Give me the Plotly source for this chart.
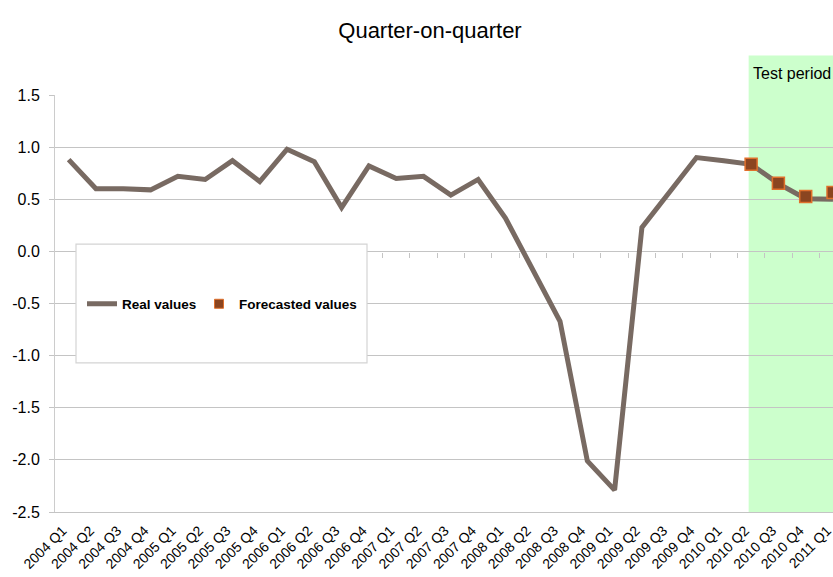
import plotly.graph_objects as go

# Quarterly labels, 2004 Q1 .. 2011 Q1
quarters = [
    "2004 Q1", "2004 Q2", "2004 Q3", "2004 Q4",
    "2005 Q1", "2005 Q2", "2005 Q3", "2005 Q4",
    "2006 Q1", "2006 Q2", "2006 Q3", "2006 Q4",
    "2007 Q1", "2007 Q2", "2007 Q3", "2007 Q4",
    "2008 Q1", "2008 Q2", "2008 Q3", "2008 Q4",
    "2009 Q1", "2009 Q2", "2009 Q3", "2009 Q4",
    "2010 Q1", "2010 Q2", "2010 Q3", "2010 Q4",
    "2011 Q1",
]

# Observed quarter-on-quarter growth (%)
real_values = [
    0.88, 0.60, 0.60, 0.59,
    0.72, 0.69, 0.87, 0.67,
    0.98, 0.86, 0.42, 0.82,
    0.70, 0.72, 0.54, 0.69,
    0.32, -0.17, -0.67, -2.01,
    -2.29, 0.23, 0.56, 0.90,
    0.87, 0.835, 0.65, 0.505,
    0.50,
]

# Model forecasts over the test period
forecast_quarters = ["2010 Q2", "2010 Q3", "2010 Q4", "2011 Q1"]
forecast_values = [0.835, 0.654, 0.526, 0.564]

y_ticks = [1.5, 1.0, 0.5, 0.0, -0.5, -1.0, -1.5, -2.0, -2.5]

LINE_COLOR = "#786a62"
MARKER_FILL = "#8b4520"
MARKER_EDGE = "#e0702c"
GRID = "#c4c4c4"
FONT = "Arial, Liberation Sans, sans-serif"

W, H = 833, 577
M_L, M_R, M_T, M_B = 55, 0, 94.5, 64.5
plot_w = W - M_L - M_R
plot_h = H - M_T - M_B

def px_x(px):
    return (px - M_L) / plot_w

def px_y(py):
    return (H - M_B - py) / plot_h

fig = go.Figure()

fig.add_trace(go.Scatter(
    x=quarters, y=real_values, mode="lines", name="Real values",
    line=dict(color=LINE_COLOR, width=5), cliponaxis=False,
    legend="legend",
))

fig.add_trace(go.Scatter(
    x=forecast_quarters, y=forecast_values, mode="markers",
    name="Forecasted values", showlegend=False, cliponaxis=False,
    marker=dict(symbol="square", size=12, color=MARKER_FILL,
                line=dict(color=MARKER_EDGE, width=1.5)),
))
# legend key for the forecasts (smaller square than on the plot)
fig.add_trace(go.Scatter(
    x=[None], y=[None], mode="markers", name="Forecasted values",
    marker=dict(symbol="square", size=9, color=MARKER_FILL,
                line=dict(color=MARKER_EDGE, width=1)),
    legend="legend2",
))
# carrier for the tick marks along the zero line
fig.add_trace(go.Scatter(x=[None], y=[None], xaxis="x2", showlegend=False,
                         hoverinfo="skip", mode="lines"))

n = len(quarters)
x_right = n - 1 + 0.0
band_start = quarters.index("2010 Q2") - 0.09

# test period band
fig.add_shape(type="rect", xref="x", yref="paper",
              x0=band_start, x1=n + 1,
              y0=0, y1=px_y(55), fillcolor="#ccffcc", line=dict(width=0),
              layer="below")
fig.add_annotation(text="Test period", xref="x", yref="paper",
                   x=band_start, y=px_y(73),
                   xanchor="left", yanchor="middle", showarrow=False,
                   xshift=2, font=dict(family=FONT, size=16, color="#000000"))

# legend panel
fig.add_shape(type="rect", xref="paper", yref="paper",
              x0=px_x(76), x1=px_x(367), y0=px_y(363), y1=px_y(244),
              fillcolor="#ffffff", line=dict(color="#d4d4d4", width=1.2),
              layer="above")

legend_font = dict(family=FONT, size=13.5, color="#000000", weight="bold")

fig.update_layout(
    width=W, height=H,
    margin=dict(l=M_L, r=M_R, t=M_T, b=M_B, autoexpand=False),
    paper_bgcolor="#ffffff", plot_bgcolor="rgba(0,0,0,0)",
    title=dict(text="Quarter-on-quarter", x=430 / W, xanchor="center",
               y=1 - 30 / H, yanchor="middle", yref="container",
               font=dict(family=FONT, size=22, color="#000000")),
    showlegend=True,
    legend=dict(x=px_x(82), y=px_y(304), xanchor="left", yanchor="middle",
                bgcolor="rgba(0,0,0,0)", borderwidth=0, font=legend_font),
    legend2=dict(x=px_x(199), y=px_y(304), xanchor="left", yanchor="middle",
                 bgcolor="rgba(0,0,0,0)", borderwidth=0, font=legend_font),
    xaxis=dict(
        type="category", categoryorder="array", categoryarray=quarters,
        range=[-0.5, x_right], tickangle=-45, ticks="", automargin=False,
        ticklabelshift=-6, ticklabelstandoff=4,
        tickfont=dict(family=FONT, size=14, color="#000000"),
        showgrid=False, zeroline=False,
        showline=True, linecolor=GRID, linewidth=1,
    ),
    xaxis2=dict(
        overlaying="x", anchor="free", position=px_y(251.7),
        range=[-0.5, x_right], tickvals=[i + 0.5 for i in range(n - 1)],
        ticks="outside", ticklen=5, tickcolor=GRID, tickwidth=1,
        automargin=False,
        showticklabels=False, showgrid=False, zeroline=False, showline=False,
    ),
    yaxis=dict(
        range=[-2.5, 1.5], tickvals=y_ticks,
        ticktext=[f"{v:.1f}" for v in y_ticks], automargin=False,
        ticks="outside", ticklen=5, tickcolor=GRID, ticklabelstandoff=6,
        tickfont=dict(family=FONT, size=16, color="#000000"),
        showgrid=True, gridcolor=GRID, gridwidth=1,
        zeroline=False, showline=True, linecolor="#cccccc", linewidth=1,
    ),
)

fig.write_html("out.html")
